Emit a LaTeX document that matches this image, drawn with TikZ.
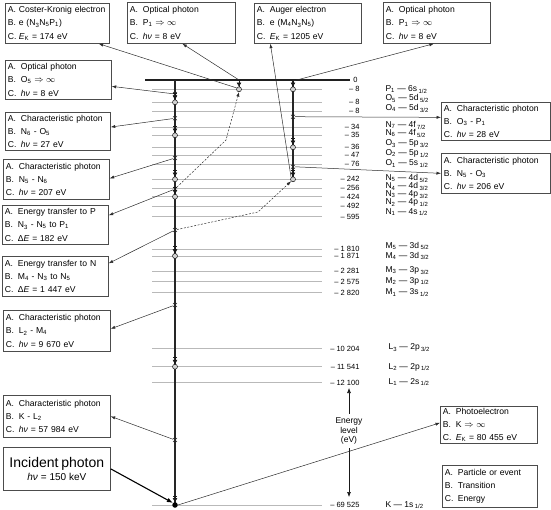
\documentclass[tikz,border=0pt]{standalone}
\usepackage{fontspec}
\setmainfont{Liberation Sans}
\usetikzlibrary{arrows.meta,shapes.misc,calc}
\newcommand{\ab}[1]{\makebox[13pt][l]{#1}}
\newcommand{\sbs}[1]{\textsubscript{#1}}
\newcommand{\hv}{\textit{hν}}
\newcommand{\EK}{\textit{E}\textsubscript{K}}
\newcommand{\toinf}{$\Rightarrow\infty$}
\begin{document}
\begin{tikzpicture}[x=1pt,y=-1pt,
  lev/.style={draw=gray!55, line width=0.7pt},
  vln/.style={draw=gray!30!black, line width=1.2pt},
  conn/.style={draw=gray!35!black, line width=0.5pt, -{Latex[length=4.5pt,width=3.2pt]}},
  dconn/.style={conn, dash pattern=on 2pt off 1.5pt},
  box/.style 2 args={draw=gray!60!black, line width=0.7pt, fill=white, anchor=north west, align=left, inner xsep=2.5pt, inner ysep=1pt, text width=#1, minimum height=#2, font=\fontsize{8.6}{13.2}\selectfont},
  xm/.style={cross out, draw=gray!30!black, line width=0.5pt, minimum size=3.5pt, inner sep=0pt},
  om/.style={circle, draw=gray!20!black, fill=gray!35, line width=0.5pt, minimum size=5pt, inner sep=0pt},
  km/.style={circle, fill=black, minimum size=5.5pt, inner sep=0pt},
  tm/.style={draw=gray!20!black, line width=0.5pt, {Bar[width=4pt]}-{Triangle[length=4pt,width=4.5pt]}},
  num/.style={anchor=base east, font=\fontsize{7.5}{9}\selectfont},
  orb/.style={anchor=base west, font=\fontsize{8.5}{10}\selectfont},
]
\useasboundingbox (0,0) rectangle (551,510);

% energy levels
\draw[line width=1.5pt, draw=gray!25!black] (145,80) -- (350,80);
\node[num] (n0) at (361,82.7) {0};
\foreach \y/\n/\o/\ly [count=\i] in {
 89.3/8/{P\sbs{1} — 6s\,\sbs{1/2}}/88.3,
 102.3/8/{O\sbs{5} — 5d\,\sbs{5/2}}/97.7,
 111.3/8/{O\sbs{4} — 5d\,\sbs{3/2}}/107.3,
 127.3/34/{N\sbs{7} — 4f\,\sbs{7/2}}/124.3,
 135.3/35/{N\sbs{6} — 4f\,\sbs{5/2}}/132.3,
 147.3/36/{O\sbs{3} — 5p\,\sbs{3/2}}/142.7,
 155/47/{O\sbs{2} — 5p\,\sbs{1/2}}/152.3,
 164/76/{O\sbs{1} — 5s\,\sbs{1/2}}/162.7,
 179.3/242/{N\sbs{5} — 4d\,\sbs{5/2}}/177.3,
 188.3/256/{N\sbs{4} — 4d\,\sbs{3/2}}/185.7,
 196.7/424/{N\sbs{3} — 4p\,\sbs{3/2}}/193.3,
 206/492/{N\sbs{2} — 4p\,\sbs{1/2}}/201.7,
 216.7/595/{N\sbs{1} — 4s\,\sbs{1/2}}/211,
 249.3/1 810/{M\sbs{5} — 3d\,\sbs{5/2}}/245,
 256/1 871/{M\sbs{4} — 3d\,\sbs{3/2}}/255,
 271.3/2 281/{M\sbs{3} — 3p\,\sbs{3/2}}/269.3,
 281.7/2 575/{M\sbs{2} — 3p\,\sbs{1/2}}/280,
 292.7/2 820/{M\sbs{1} — 3s\,\sbs{1/2}}/291.7,
 348.3/10 204/{\hspace{3pt}L\sbs{3} — 2p\,\sbs{3/2}}/346.7,
 366.7/11 541/{\hspace{3pt}L\sbs{2} — 2p\,\sbs{1/2}}/366,
 382.7/12 100/{\hspace{3pt}L\sbs{1} — 2s\,\sbs{1/2}}/381,
 505/69 525/{K — 1s\,\sbs{1/2}}/504}{
  \draw[lev] (152,\y) -- (322,\y);
  \node[num] (n\i) at (363,\y+2.7) {– \n};
  \node[orb] (o\i) at (382,\ly+3.2) {\o};
}

% vertical lines
\draw[vln] (175,80) -- (175,505);
\draw[vln] (293,80) -- (293,179.3);
\draw[vln, line width=0.8pt] (239,80) -- (239,89.3);
\coordinate (mT) at (239,80);
\coordinate (rT) at (293,81);

% left column markers
\node[xm] (x1) at (175,94) {};
\node[xm] (x2) at (175,118.3) {};
\node[xm] (x3) at (175,158) {};
\node[xm] (x4) at (175,189) {};
\node[xm] (x5) at (175,230) {};
\node[xm] (x6) at (175,305) {};
\node[xm] (x7) at (175,440) {};
\foreach \y/\nm in {102.3/cO5, 135.3/cN6, 179.3/cN5, 196.7/cN3, 256/cM4, 366.7/cL2}{
  \node[om] (\nm) at (175,\y) {};
  \draw[tm] (175,\y-9.5) -- (\nm.north);
}
\node[km] (kd) at (175,505) {};
\draw[tm] (175,495.5) -- (kd.north);

% right column markers
\node[om] (rP) at (293,89.3) {};
\draw[tm] (293,80.5) -- (rP.north);
\node[xm] (r1) at (293,116.7) {};
\node[om] (rO3) at (293,147.3) {};
\draw[tm] (293,137.8) -- (rO3.north);
\node[xm] (r2) at (293,166.7) {};
\node[om] (rN5) at (293,179.3) {};
\draw[tm] (293,170.2) -- (rN5.north);

% middle column marker
\node[om] (mP) at (239,89.3) {};
\draw[tm] (239,80.5) -- (mP.north);

% boxes
\node[box={99pt}{40pt}] (b1) at (5,3) {\makebox[11pt][l]{A.}Coster-Kronig electron\\\makebox[11pt][l]{B.}e (N\sbs{3}N\sbs{5}P\sbs{1})\\\makebox[11pt][l]{C.}\EK{} = 174 eV};
\node[box={103pt}{41pt}] (b2) at (127,2) {\ab{A.}Optical photon\\\ab{B.}P\sbs{1} \toinf\\\ab{C.}\hv{} = 8 eV};
\node[box={102pt}{40pt}] (b3) at (254,3) {\ab{A.}Auger electron\\\ab{B.}e (M\sbs{4}N\sbs{3}N\sbs{5})\\\ab{C.}\EK{} = 1205 eV};
\node[box={102pt}{41pt}] (b4) at (383,2) {\ab{A.}Optical photon\\\ab{B.}P\sbs{1} \toinf\\\ab{C.}\hv{} = 8 eV};
\node[box={101pt}{39pt}] (b5) at (5,60) {\ab{A.}Optical photon\\\ab{B.}O\sbs{5} \toinf\\\ab{C.}\hv{} = 8 eV};
\node[box={100pt}{38pt}] (b6) at (5,112) {\ab{A.}Characteristic photon\\\ab{B.}N\sbs{6} - O\sbs{5}\\\ab{C.}\hv{} = 27 eV};
\node[box={101pt}{40pt}] (b7) at (3,159) {\ab{A.}Characteristic photon\\\ab{B.}N\sbs{5} - N\sbs{6}\\\ab{C.}\hv{} = 207 eV};
\node[box={101pt}{39pt}] (b8) at (2,205) {\ab{A.}Energy transfer to P\\\ab{B.}N\sbs{3} - N\sbs{5} to P\sbs{1}\\\ab{C.}Δ\textit{E} = 182 eV};
\node[box={101pt}{40pt}] (b9) at (2,256) {\ab{A.}Energy transfer to N\\\ab{B.}M\sbs{4} - N\sbs{3} to N\sbs{5}\\\ab{C.}Δ\textit{E} = 1 447 eV};
\node[box={102pt}{41pt}] (b10) at (3,310) {\ab{A.}Characteristic photon\\\ab{B.}L\sbs{2} - M\sbs{4}\\\ab{C.}\hv{} = 9 670 eV};
\node[box={102pt}{42pt}] (b11) at (3,395) {\ab{A.}Characteristic photon\\\ab{B.}K - L\sbs{2}\\\ab{C.}\hv{} = 57 984 eV};
\node[box={102pt}{43pt}, align=center] (b12) at (3,447) {\fontsize{14}{17}\selectfont Incident photon\\\fontsize{10}{12}\selectfont \hv{} = 150 keV};
\node[box={104pt}{38pt}] (b13) at (441,102) {\ab{A.}Characteristic photon\\\ab{B.}O\sbs{3} - P\sbs{1}\\\ab{C.}\hv{} = 28 eV};
\node[box={104pt}{40pt}] (b14) at (441,153) {\ab{A.}Characteristic photon\\\ab{B.}N\sbs{5} - O\sbs{3}\\\ab{C.}\hv{} = 206 eV};
\node[box={92pt}{37pt}] (b15) at (440,406) {\ab{A.}Photoelectron\\\ab{B.}K \toinf\\\ab{C.}\EK{} = 80 455 eV};
\node[box={90pt}{42pt}] (b16) at (442,465) {\ab{A.}Particle or event\\\ab{B.}Transition\\\ab{C.}Energy};

% connectors
\draw[conn] (mP.150) -- ([xshift=-11pt]b1.south east);
\draw[conn] (mT) -- ([xshift=1pt]b2.south);
\draw[conn] (rN5.north west) -- ([xshift=-37.5pt]b3.south);
\draw[conn] (rT) -- ([xshift=-3pt]b4.south);
\draw[conn] (x1) -- ([yshift=-6.5pt]b5.east);
\draw[conn] (x2) -- ([yshift=4.3pt]b6.east);
\draw[conn] (x3) -- ([yshift=1pt]b7.east);
\draw[conn] (x4) -- ([yshift=9.5pt]b8.east);
\draw[conn] (x5) -- ([yshift=13pt]b9.east);
\draw[conn] (x6) -- ([yshift=2pt]b10.east);
\draw[conn] (x7) -- (b11.east);
\draw[conn] (r1) -- ([yshift=4pt]b13.west);
\draw[conn] (r2) -- (b14.west);
\draw[line width=1.1pt, draw=black, -{Latex[length=6pt,width=4.5pt]}] (b12.east) -- (kd.north west);
\draw[conn] (kd.east) -- ([yshift=2pt]b15.west);
\coordinate (d1) at (226,140);
\draw[dconn] (x4) -- (d1) -- (mP.south);
\coordinate (d2) at (258,212);
\draw[dconn] (x5) -- (d2) -- (rN5.south west);

% energy axis
\node[font=\fontsize{8.5}{9.8}\selectfont, align=center] (ene) at (349,431) {Energy\\level\\(eV)};
\coordinate (eu) at (349,388);
\coordinate (ed) at (349,497);
\draw[draw=gray!20!black, line width=0.6pt, -{Latex[length=5pt,width=4pt]}] (ene.north) -- (eu);
\draw[draw=gray!20!black, line width=0.6pt, -{Latex[length=5pt,width=4pt]}] (ene.south) -- (ed);
\end{tikzpicture}
\end{document}
